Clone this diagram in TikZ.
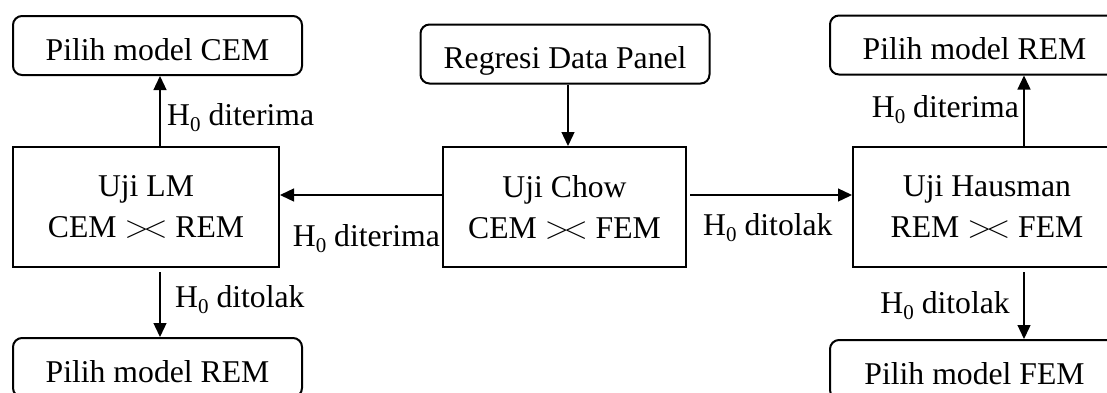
\RequirePackage{fix-cm}
\documentclass[tikz,border=0pt]{standalone}
\usepackage{fontspec}
\setmainfont{Liberation Serif}
\usetikzlibrary{arrows.meta}
% H with a lowered zero
\newcommand\Hnol{H\raisebox{-0.2em}{\fontsize{21}{21}\selectfont 0}}
% "greater-less" comparison sign, tips touching
\newcommand\vs{$>\!<$}

\begin{document}
\begin{tikzpicture}[x=1pt,y=-1pt,
  box/.style={draw,line width=2pt,inner sep=0pt,align=center,
              font=\fontsize{31.7}{41}\selectfont},
  pick/.style={box,rounded corners=9pt,minimum width=289pt,minimum height=59pt,
               text height=29pt,text depth=0pt},
  test/.style={box,minimum height=120pt},
  arr/.style={line width=1.3pt,-{Triangle[length=14pt,width=13pt]}},
  lbl/.style={inner sep=0pt,font=\fontsize{31.7}{38}\selectfont}]

\useasboundingbox (0,0) rectangle (1107,392);
\clip (0,0) rectangle (1107,392);
\fill[white] (0,0) rectangle (1107,392);

% helper positions for the connectors
\coordinate (xl) at (160,0);
\coordinate (xm) at (568,0);
\coordinate (xr) at (1024,0);
\coordinate (yh) at (0,195);

% boxes
\node[pick] (reg) at (565,54) {Regresi Data Panel};
\node[test,minimum width=243pt] (chow) at (564.5,207) {Uji Chow\\CEM \vs{} FEM};
\node[test,minimum width=266pt] (lm) at (146,207) {Uji LM\\CEM \vs{} REM};
\node[test,minimum width=268pt] (haus) at (987,207) {Uji Hausman\\REM \vs{} FEM};
\node[pick] (cem) at (157.5,45.5) {Pilih model CEM};
\node[pick] (remB) at (157.5,367.5) {Pilih model REM};
\node[pick] (remA) at (974.5,45) {Pilih model REM};
\node[pick] (fem) at (974.5,369.5) {Pilih model FEM};

% connectors
\draw[arr] (reg.south -| xm) -- (chow.north -| xm);
\draw[arr] (chow.west |- yh) -- (lm.east |- yh);
\draw[arr,shorten <=3pt] (chow.east |- yh) -- (haus.west |- yh);
\draw[arr] (lm.north -| xl) -- (cem.south -| xl);
\draw[arr,shorten <=4pt] (lm.south -| xl) -- (remB.north -| xl);
\draw[arr] (haus.north -| xr) -- (remA.south -| xr);
\draw[arr,shorten <=4pt] (haus.south -| xr) -- (fem.north -| xr);

% connector labels
\node[lbl,anchor=base west] (l1) at (167,125) {\Hnol{} diterima};
\node[lbl,anchor=base west] (l2) at (175,307) {\Hnol{} ditolak};
\node[lbl,anchor=base east] (l3) at (440,246) {\Hnol{} diterima};
\node[lbl,anchor=base west] (l4) at (703,235) {\Hnol{} ditolak};
\node[lbl,anchor=base east] (l5) at (1019,117) {\Hnol{} diterima};
\node[lbl,anchor=base east] (l6) at (1010,313) {\Hnol{} ditolak};
\end{tikzpicture}
\end{document}
